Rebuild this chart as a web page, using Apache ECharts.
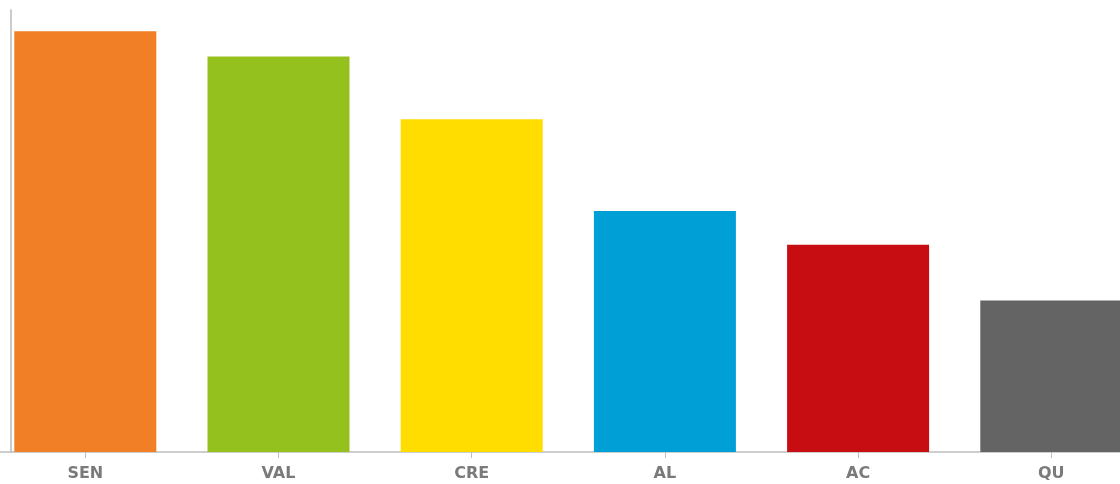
<!DOCTYPE html>
<html>
<head>
<meta charset="utf-8">
<title>Bar chart</title>
<script src="https://cdn.jsdelivr.net/npm/echarts@6/dist/echarts.min.js"></script>
<style>
  html, body { margin: 0; padding: 0; background: #ffffff; overflow: hidden; width: 1120px; height: 484px; }
  #wrap { position: relative; width: 1120px; height: 484px; overflow: hidden; }
  /* the plot runs slightly past both page edges */
  #chart { position: absolute; left: -20px; top: 0; width: 1200px; height: 484px; }
</style>
</head>
<body>
<div id="wrap"><div id="chart"></div></div>
<script>
// Categories and their values
const categories = ['SEN', 'VAL', 'CRE', 'AL', 'AC', 'QU'];
const values = [95.2, 89.5, 75.3, 54.5, 46.9, 34.3];
const barColors = ['#F07F26', '#95C11F', '#FFDD00', '#009FD6', '#C80D12', '#646464'];

const chart = echarts.init(document.getElementById('chart'), null, { renderer: 'canvas' });

chart.setOption({
  animation: false,
  backgroundColor: '#ffffff',
  grid: { left: 8.7, width: 1159.2, top: 10, bottom: 32, containLabel: false },
  xAxis: {
    type: 'category',
    data: categories,
    axisLine: { show: true, lineStyle: { color: '#bdbdbd', width: 1.5 } },
    axisTick: { show: true, alignWithLabel: true, length: 6, lineStyle: { color: '#bdbdbd' } },
    axisLabel: {
      color: '#7a7a7a',
      fontFamily: 'DejaVu Sans',
      fontWeight: 'bold',
      fontSize: 16,
      margin: 14
    },
    splitLine: { show: false }
  },
  yAxis: {
    type: 'value',
    min: 0,
    max: 100,
    offset: -22.3,
    axisLine: { show: true, lineStyle: { color: '#cccccc', width: 2 } },
    axisTick: { show: false },
    axisLabel: { show: false },
    splitLine: { show: false }
  },
  series: [{
    type: 'bar',
    data: values.map((v, i) => ({ value: v, itemStyle: { color: barColors[i] } })),
    barWidth: 142
  }]
});
</script>
</body>
</html>
